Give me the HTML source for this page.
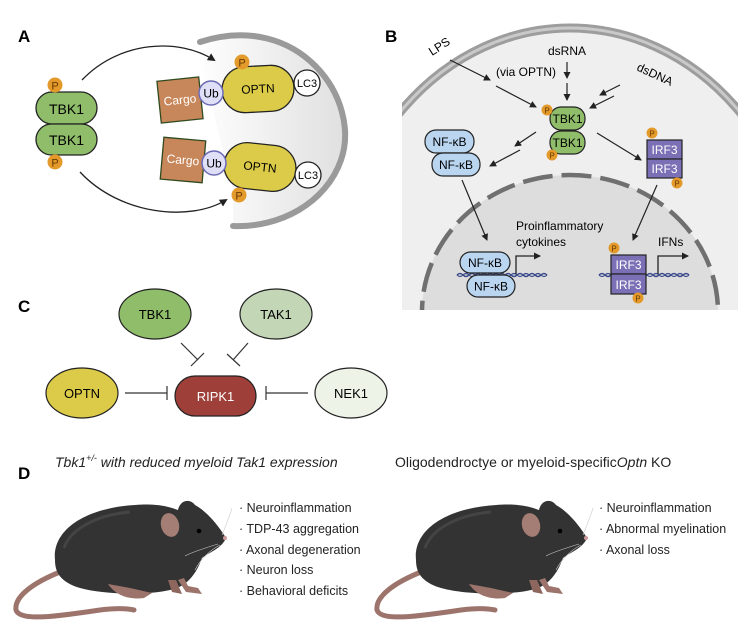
<!DOCTYPE html>
<html><head><meta charset="utf-8"><style>
html,body{margin:0;padding:0;background:#fff;}
svg{display:block;font-family:"Liberation Sans",sans-serif;}
</style></head><body>
<svg width="747" height="631" viewBox="0 0 747 631" xmlns="http://www.w3.org/2000/svg">
<defs>
<marker id="ah" markerWidth="8" markerHeight="8" refX="6" refY="4" orient="auto" markerUnits="userSpaceOnUse"><path d="M0,0 L8,4 L0,8Z" fill="#222"/></marker>
<marker id="ahs" markerWidth="7" markerHeight="7" refX="6" refY="3.5" orient="auto" markerUnits="userSpaceOnUse"><path d="M0,0 L7,3.5 L0,7Z" fill="#222"/></marker>
<linearGradient id="ga" x1="0" y1="0" x2="1" y2="0"><stop offset="0" stop-color="#fff"/><stop offset="1" stop-color="#dcdcdc"/></linearGradient>
<clipPath id="cb"><rect x="402" y="20" width="336" height="290"/></clipPath>
</defs>

<!-- Panel A -->
<text x="18" y="42" font-size="17" font-weight="bold">A</text>
<path d="M195,40 C300,5 365,100 343,160 C328,205 280,232 233,228 L233,190 L195,40Z" fill="url(#ga)" opacity="0.9"/>
<path d="M200,42 C300,10 362,100 341,160 C326,203 280,228 233,226" fill="none" stroke="#9a9a9a" stroke-width="6" stroke-linecap="round"/>
<path d="M82,80 C120,40 180,38 214,60" fill="none" stroke="#222" stroke-width="1.3" marker-end="url(#ah)"/>
<path d="M80,172 C120,215 190,222 226,200" fill="none" stroke="#222" stroke-width="1.3" marker-end="url(#ah)"/>
<rect x="36" y="92" width="61" height="32" rx="16" fill="#8fbd6a" stroke="#222" stroke-width="1.3"/>
<rect x="36" y="124" width="61" height="31" rx="15.5" fill="#8fbd6a" stroke="#222" stroke-width="1.3"/>
<text x="66.5" y="114" font-size="14" text-anchor="middle">TBK1</text>
<text x="66.5" y="145" font-size="14" text-anchor="middle">TBK1</text>
<circle cx="55" cy="85" r="7.5" fill="#e39a2b"/><text x="55" y="89.5" font-size="11" text-anchor="middle" fill="#6a3a00">P</text>
<circle cx="55" cy="162" r="7.5" fill="#e39a2b"/><text x="55" y="166.5" font-size="11" text-anchor="middle" fill="#6a3a00">P</text>
<g transform="rotate(-6 180 100)"><rect x="159" y="79" width="42" height="42" fill="#c8875a" stroke="#2f4a1e" stroke-width="1.3"/></g>
<text x="180" y="104" font-size="12" fill="#fff" text-anchor="middle" transform="rotate(-6 180 100)">Cargo</text>
<g transform="rotate(-3 258 89)"><rect x="222" y="66" width="72" height="46" rx="23" fill="#dccb48" stroke="#222" stroke-width="1.3"/>
<text x="258" y="93" font-size="12" text-anchor="middle">OPTN</text></g>
<circle cx="211" cy="93" r="12" fill="#dfe0f7" stroke="#6c6cb6" stroke-width="1.5"/><text x="211" y="97.5" font-size="12" text-anchor="middle">Ub</text>
<circle cx="307" cy="83" r="13" fill="#fff" stroke="#222" stroke-width="1.3"/><text x="307" y="87" font-size="11" text-anchor="middle">LC3</text>
<circle cx="242" cy="62" r="7.5" fill="#e39a2b"/><text x="242" y="66.5" font-size="11" text-anchor="middle" fill="#6a3a00">P</text>
<g transform="rotate(5 183 160)"><rect x="162" y="139" width="42" height="42" fill="#c8875a" stroke="#2f4a1e" stroke-width="1.3"/></g>
<text x="183" y="164" font-size="12" fill="#fff" text-anchor="middle" transform="rotate(5 183 160)">Cargo</text>
<g transform="rotate(6 260 167)"><rect x="224" y="144" width="72" height="46" rx="23" fill="#dccb48" stroke="#222" stroke-width="1.3"/>
<text x="260" y="171" font-size="12" text-anchor="middle">OPTN</text></g>
<circle cx="214" cy="163" r="12" fill="#dfe0f7" stroke="#6c6cb6" stroke-width="1.5"/><text x="214" y="167.5" font-size="12" text-anchor="middle">Ub</text>
<circle cx="308" cy="175" r="13" fill="#fff" stroke="#222" stroke-width="1.3"/><text x="308" y="179" font-size="11" text-anchor="middle">LC3</text>
<circle cx="239" cy="195" r="7.5" fill="#e39a2b"/><text x="239" y="199.5" font-size="11" text-anchor="middle" fill="#6a3a00">P</text>

<!-- Panel B -->
<text x="385" y="42" font-size="17" font-weight="bold">B</text>
<g clip-path="url(#cb)">
<ellipse cx="570" cy="300" rx="235" ry="272" fill="#efefef"/>
<ellipse cx="570" cy="300" rx="235" ry="272" fill="none" stroke="#9d9d9d" stroke-width="9"/>
<ellipse cx="570" cy="300" rx="235" ry="272" fill="none" stroke="#c9c9c9" stroke-width="3"/>
<ellipse cx="570" cy="312" rx="148" ry="137" fill="#dddddd" stroke="#707070" stroke-width="4.5" stroke-dasharray="30 9"/>
</g>
<text x="0" y="0" font-size="12" transform="translate(432,56) rotate(-33)">LPS</text>
<text x="567" y="55" font-size="12" text-anchor="middle">dsRNA</text>
<text x="496" y="76" font-size="12">(via OPTN)</text>
<text x="0" y="0" font-size="12" transform="translate(636,70) rotate(25)">dsDNA</text>
<line x1="450" y1="60" x2="490" y2="80" stroke="#222" stroke-width="1.2" marker-end="url(#ahs)"/>
<line x1="496" y1="86" x2="536" y2="107" stroke="#222" stroke-width="1.2" marker-end="url(#ahs)"/>
<line x1="567" y1="62" x2="567" y2="78" stroke="#222" stroke-width="1.2" marker-end="url(#ahs)"/>
<line x1="567" y1="83" x2="567" y2="100" stroke="#222" stroke-width="1.2" marker-end="url(#ahs)"/>
<line x1="620" y1="85" x2="600" y2="95" stroke="#222" stroke-width="1.2" marker-end="url(#ahs)"/>
<line x1="614" y1="96" x2="590" y2="108" stroke="#222" stroke-width="1.2" marker-end="url(#ahs)"/>
<rect x="550" y="107" width="35" height="23" rx="11" fill="#8fbd6a" stroke="#222" stroke-width="1.2"/>
<rect x="550" y="131" width="35" height="23" rx="11" fill="#8fbd6a" stroke="#222" stroke-width="1.2"/>
<text x="567.5" y="123" font-size="12" text-anchor="middle">TBK1</text>
<text x="567.5" y="147" font-size="12" text-anchor="middle">TBK1</text>
<circle cx="547" cy="110" r="5.5" fill="#e39a2b"/><text x="547" y="113.5" font-size="8" text-anchor="middle" fill="#6a3a00">P</text>
<circle cx="552" cy="155" r="5.5" fill="#e39a2b"/><text x="552" y="158.5" font-size="8" text-anchor="middle" fill="#6a3a00">P</text>
<line x1="536" y1="132" x2="515" y2="146" stroke="#222" stroke-width="1.2" marker-end="url(#ahs)"/>
<line x1="520" y1="150" x2="490" y2="166" stroke="#222" stroke-width="1.2" marker-end="url(#ahs)"/>
<line x1="597" y1="133" x2="641" y2="160" stroke="#222" stroke-width="1.2" marker-end="url(#ahs)"/>
<rect x="425" y="130" width="49" height="23" rx="11" fill="#b9d5f0" stroke="#222" stroke-width="1.2"/>
<rect x="432" y="153" width="48" height="23" rx="11" fill="#b9d5f0" stroke="#222" stroke-width="1.2"/>
<text x="449.5" y="146" font-size="12" text-anchor="middle">NF-κB</text>
<text x="456" y="169" font-size="12" text-anchor="middle">NF-κB</text>
<rect x="647" y="140" width="35" height="19" fill="#7b70b6" stroke="#222" stroke-width="1.2"/>
<rect x="647" y="159" width="35" height="19" fill="#7b70b6" stroke="#222" stroke-width="1.2"/>
<text x="664.5" y="154" font-size="12" text-anchor="middle" fill="#fff">IRF3</text>
<text x="664.5" y="173" font-size="12" text-anchor="middle" fill="#fff">IRF3</text>
<circle cx="652" cy="133" r="5.5" fill="#e39a2b"/><text x="652" y="136.5" font-size="8" text-anchor="middle" fill="#6a3a00">P</text>
<circle cx="677" cy="183" r="5.5" fill="#e39a2b"/><text x="677" y="186.5" font-size="8" text-anchor="middle" fill="#6a3a00">P</text>
<line x1="462" y1="180" x2="487" y2="240" stroke="#222" stroke-width="1.2" marker-end="url(#ahs)"/>
<line x1="657" y1="185" x2="633" y2="240" stroke="#222" stroke-width="1.2" marker-end="url(#ahs)"/>
<path d="M457,275 q3,-3 6,0 t6,0 t6,0 t6,0 t6,0 t6,0 t6,0 t6,0 t6,0 t6,0 t6,0 t6,0 t6,0 t6,0 t6,0" fill="none" stroke="#3a4a8a" stroke-width="1.5"/>
<path d="M457,275 q3,3 6,0 t6,0 t6,0 t6,0 t6,0 t6,0 t6,0 t6,0 t6,0 t6,0 t6,0 t6,0 t6,0 t6,0 t6,0" fill="none" stroke="#3a4a8a" stroke-width="1.2"/>
<path d="M599,275 q3,-3 6,0 t6,0 t6,0 t6,0 t6,0 t6,0 t6,0 t6,0 t6,0 t6,0 t6,0 t6,0 t6,0 t6,0 t6,0" fill="none" stroke="#3a4a8a" stroke-width="1.5"/>
<path d="M599,275 q3,3 6,0 t6,0 t6,0 t6,0 t6,0 t6,0 t6,0 t6,0 t6,0 t6,0 t6,0 t6,0 t6,0 t6,0 t6,0" fill="none" stroke="#3a4a8a" stroke-width="1.2"/>
<rect x="460" y="252" width="50" height="21" rx="10.5" fill="#b9d5f0" stroke="#222" stroke-width="1.2"/>
<rect x="467" y="275" width="48" height="22" rx="11" fill="#b9d5f0" stroke="#222" stroke-width="1.2"/>
<text x="485" y="267" font-size="12" text-anchor="middle">NF-κB</text>
<text x="491" y="290.5" font-size="12" text-anchor="middle">NF-κB</text>
<path d="M516,274 V256 H540" fill="none" stroke="#222" stroke-width="1.3" marker-end="url(#ahs)"/>
<text x="516" y="230" font-size="12">Proinflammatory</text>
<text x="516" y="246" font-size="12">cytokines</text>
<rect x="611" y="255" width="35" height="19" fill="#7b70b6" stroke="#222" stroke-width="1.2"/>
<rect x="611" y="274" width="35" height="20" fill="#7b70b6" stroke="#222" stroke-width="1.2"/>
<text x="628.5" y="269" font-size="12" text-anchor="middle" fill="#fff">IRF3</text>
<text x="628.5" y="289" font-size="12" text-anchor="middle" fill="#fff">IRF3</text>
<circle cx="614" cy="248" r="5.5" fill="#e39a2b"/><text x="614" y="251.5" font-size="8" text-anchor="middle" fill="#6a3a00">P</text>
<circle cx="638" cy="298" r="5.5" fill="#e39a2b"/><text x="638" y="301.5" font-size="8" text-anchor="middle" fill="#6a3a00">P</text>
<path d="M658,274 V256 H688" fill="none" stroke="#222" stroke-width="1.3" marker-end="url(#ahs)"/>
<text x="658" y="246" font-size="12">IFNs</text>

<!-- Panel C -->
<text x="18" y="312" font-size="17" font-weight="bold">C</text>
<ellipse cx="155" cy="314" rx="36" ry="25" fill="#8fbd6a" stroke="#222" stroke-width="1.2"/>
<text x="155" y="319" font-size="13" text-anchor="middle">TBK1</text>
<ellipse cx="276" cy="314" rx="36" ry="25" fill="#c3d6b6" stroke="#222" stroke-width="1.2"/>
<text x="276" y="319" font-size="13" text-anchor="middle">TAK1</text>
<ellipse cx="82" cy="393" rx="36" ry="25" fill="#dccb48" stroke="#222" stroke-width="1.2"/>
<text x="82" y="398" font-size="13" text-anchor="middle">OPTN</text>
<ellipse cx="351" cy="393" rx="36" ry="25" fill="#eef3e8" stroke="#222" stroke-width="1.2"/>
<text x="351" y="398" font-size="13" text-anchor="middle">NEK1</text>
<rect x="175" y="376" width="81" height="40" rx="20" fill="#9e3f39" stroke="#222" stroke-width="1.2"/>
<text x="215.5" y="401" font-size="13" text-anchor="middle" fill="#fff">RIPK1</text>
<g stroke="#333" stroke-width="1.2">
<line x1="181" y1="343" x2="198" y2="360"/><line x1="191" y1="366" x2="204" y2="353"/>
<line x1="248" y1="343" x2="233" y2="360"/><line x1="227" y1="354" x2="240" y2="366"/>
<line x1="125" y1="393" x2="167" y2="393"/><line x1="167" y1="386" x2="167" y2="400"/>
<line x1="308" y1="393" x2="266" y2="393"/><line x1="266" y1="386" x2="266" y2="400"/>
</g>

<!-- Panel D -->
<text x="18" y="479" font-size="17" font-weight="bold">D</text>
<text x="55" y="467" font-size="14" font-style="italic" fill="#222">Tbk1<tspan font-size="9" dy="-6">+/-</tspan><tspan dy="6"> with reduced myeloid Tak1 expression</tspan></text>
<text x="395" y="467" font-size="14" fill="#222">Oligodendroctye or myeloid-specific<tspan font-style="italic">Optn</tspan> KO</text>
<g id="mouse">
<path d="M60,572 C35,582 14,596 16,610 C20,622 60,616 100,610 C115,608 125,608 134,610" fill="none" stroke="#9d746b" stroke-width="5" stroke-linecap="round"/>
<path d="M55,560 C52,530 85,508 135,505 C160,503 172,508 178,510 C180,500 190,498 195,505 C208,512 220,528 226,538 C222,548 210,552 202,558 C196,575 186,587 170,590 C150,595 105,595 80,588 C60,582 55,572 55,560Z" fill="#333"/>
<path d="M64,548 C70,530 95,515 130,512" fill="none" stroke="#444" stroke-width="3"/>
<path d="M108,584 C116,596 130,600 144,598 L152,593 L130,588Z" fill="#9d746b"/>
<path d="M178,580 l8,12 l16,2 l-4,-6 l-10,-2 l-4,-8Z" fill="#9d746b"/>
<path d="M168,580 l4,12 l10,2 l-6,-14Z" fill="#8d665e"/>
<ellipse cx="170" cy="525" rx="9" ry="12" fill="#a47e74" transform="rotate(-15 170 525)"/>
<circle cx="199" cy="531" r="2.3" fill="#000"/>
<circle cx="225" cy="538" r="2" fill="#c99"/>
<path d="M222,535 C226,525 230,515 232,508 M220,545 C210,550 200,560 195,570 M218,544 C205,548 192,552 185,556" stroke="#ccc" stroke-width="0.6" fill="none"/>
</g>
<use href="#mouse" transform="translate(361,0)"/>
<g font-size="12.5" fill="#222">
<text x="239" y="512">· Neuroinflammation</text>
<text x="239" y="533">· TDP-43 aggregation</text>
<text x="239" y="554">· Axonal degeneration</text>
<text x="239" y="574">· Neuron loss</text>
<text x="239" y="595">· Behavioral deficits</text>
<text x="599" y="512">· Neuroinflammation</text>
<text x="599" y="533">· Abnormal myelination</text>
<text x="599" y="554">· Axonal loss</text>
</g>
</svg>
</body></html>
